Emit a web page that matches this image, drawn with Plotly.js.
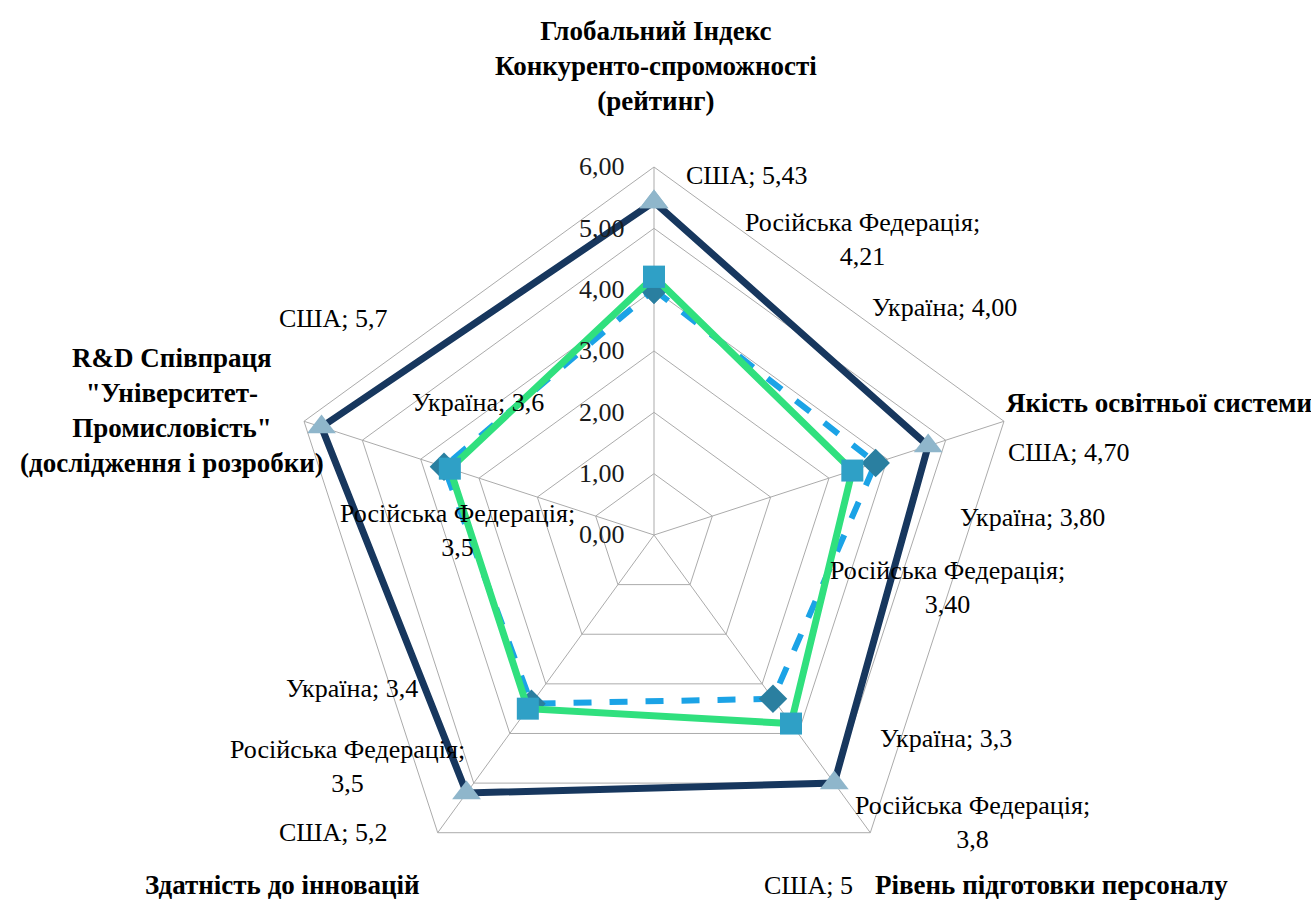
<!DOCTYPE html>
<html>
<head>
<meta charset="utf-8">
<script src="https://cdn.plot.ly/plotly-3.0.1.min.js"></script>
<style>
  html, body { margin: 0; padding: 0; background: #ffffff; overflow: hidden; }
  #chart { width: 1311px; height: 903px; }
</style>
</head>
<body>
<div id="chart"></div>
<script>
// ---------- DATA ----------
var categories = [
  "Глобальний Індекс<br>Конкуренто-спроможності<br>(рейтинг)",
  "Якість освітньої системи",
  "Рівень підготовки персоналу",
  "Здатність до інновацій",
  "R&D Співпраця<br>\"Університет-<br>Промисловість\"<br>(дослідження і розробки)"
];
var seriesNames = ["США", "Україна", "Російська Федерація"];
var valuesUSA     = [5.43, 4.70, 5.0, 5.2, 5.7];
var valuesUkraine = [4.00, 3.80, 3.3, 3.4, 3.6];
var valuesRussia  = [4.21, 3.40, 3.8, 3.5, 3.5];
// value labels as printed on the chart
var labelsUSA     = ["5,43", "4,70", "5", "5,2", "5,7"];
var labelsUkraine = ["4,00", "3,80", "3,3", "3,4", "3,6"];
var labelsRussia  = ["4,21", "3,40", "3,8", "3,5", "3,5"];
var tickValues = [0, 1, 2, 3, 4, 5, 6];
var tickLabels = ["0,00", "1,00", "2,00", "3,00", "4,00", "5,00", "6,00"];

// ---------- STYLE / LAYOUT ----------
var W = 1311, H = 903;
var serif = "'Liberation Serif', 'Times New Roman', serif";

function closed(arr) { return arr.concat([arr[0]]); }
var theta = closed(categories);

var traces = [
  {
    type: "scatterpolar", name: seriesNames[0],
    r: closed(valuesUSA), theta: theta, mode: "lines+markers",
    line: { color: "#17375E", width: 7 },
    marker: { symbol: "triangle-up", size: 25, color: "#8FB6CB", line: { width: 0 } }
  },
  {
    type: "scatterpolar", name: seriesNames[1],
    r: closed(valuesUkraine), theta: theta, mode: "lines+markers",
    line: { color: "#1BA3E6", width: 6, dash: "dash" },
    marker: { symbol: "diamond", size: 22, color: "#2A7FA0", line: { width: 0 } }
  },
  {
    type: "scatterpolar", name: seriesNames[2],
    r: closed(valuesRussia), theta: theta, mode: "lines+markers",
    line: { color: "#30E07E", width: 7 },
    marker: { symbol: "square", size: 22, color: "#2FA0C6", line: { width: 0 } }
  }
];

// label placements (pixel positions on the page): [x, y, xanchor]
var catPos = [
  [656, 66, "center"],
  [1004, 403, "left"],
  [873, 885, "left"],
  [422, 885, "right"],
  [172, 410, "center"]
];
var usaPos = [[684, 176, "left"], [1006, 452, "left"], [855, 885, "right"], [390, 832, "right"], [390, 318, "right"]];
var ukrPos = [[870, 307, "left"], [958, 517, "left"], [878, 738, "left"], [420, 688, "right"], [410, 402, "left"]];
var rusPos = [[862, 240, "center"], [947, 587, "center"], [972, 822, "center"], [347, 766, "center"], [457, 530, "center"]];

function ann(text, p, size, bold) {
  return {
    xref: "paper", yref: "paper",
    x: p[0] / W, y: 1 - p[1] / H,
    xanchor: p[2], yanchor: "middle",
    text: bold ? "<b>" + text + "</b>" : text,
    showarrow: false, align: "center",
    font: { family: serif, size: size, color: "#000000" }
  };
}

var annotations = [];
for (var i = 0; i < categories.length; i++) {
  annotations.push(ann(categories[i], catPos[i], 27, true));
  annotations.push(ann(seriesNames[0] + "; " + labelsUSA[i], usaPos[i], 26, false));
  annotations.push(ann(seriesNames[1] + "; " + labelsUkraine[i], ukrPos[i], 26, false));
  annotations.push(ann(seriesNames[2] + ";<br>" + labelsRussia[i], rusPos[i], 26, false));
}

var cx = 654, cy = 535, R = 368;
var layout = {
  width: W, height: H,
  margin: { l: 0, r: 0, t: 0, b: 0 },
  paper_bgcolor: "#ffffff",
  showlegend: false,
  polar: {
    domain: { x: [(cx - R) / W, (cx + R) / W], y: [(H - cy - R) / H, (H - cy + R) / H] },
    bgcolor: "#ffffff",
    gridshape: "linear",
    angularaxis: {
      direction: "clockwise", rotation: 90,
      showticklabels: false, ticks: "",
      showline: true, linecolor: "#ABABAB", linewidth: 1,
      gridcolor: "#ABABAB", gridwidth: 1
    },
    radialaxis: {
      range: [0, 6], angle: 90, side: "counterclockwise",
      tickvals: tickValues, ticktext: tickLabels,
      ticks: "outside", ticklen: 20, tickcolor: "rgba(0,0,0,0)",
      tickangle: 90,
      showline: false,
      gridcolor: "#ABABAB", gridwidth: 1,
      tickfont: { family: serif, size: 26, color: "#1a1a1a" }
    }
  },
  annotations: annotations
};

Plotly.newPlot("chart", traces, layout, { displayModeBar: false, staticPlot: true });
</script>
</body>
</html>
